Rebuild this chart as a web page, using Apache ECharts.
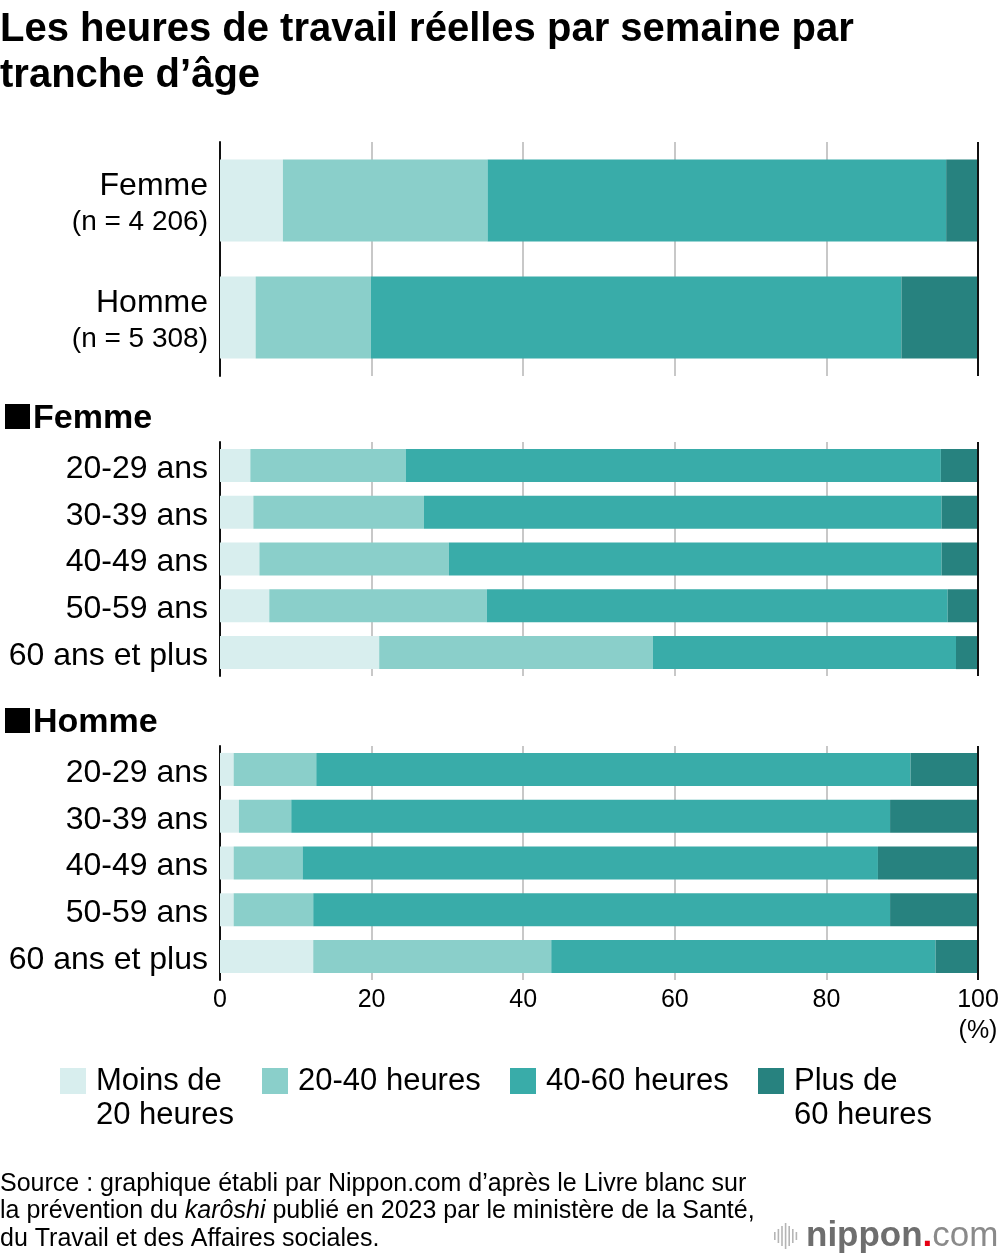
<!DOCTYPE html>
<html>
<head>
<meta charset="utf-8">
<script src="https://cdn.jsdelivr.net/npm/echarts@6/dist/echarts.min.js"></script>
<style>html,body{margin:0;padding:0;background:#fff}#c{width:1000px;height:1258px}</style>
</head>
<body>
<div id="c"></div>
<script>
// ---- data ----
const totalCats = ['Femme\n(n = 4 206)', 'Homme\n(n = 5 308)'];
const ageCats = ['20-29 ans', '30-39 ans', '40-49 ans', '50-59 ans', '60 ans et plus'];
const seriesNames = ['Moins de 20 heures', '20-40 heures', '40-60 heures', 'Plus de 60 heures'];
const legendLabels = ['Moins de\n20 heures', '20-40 heures', '40-60 heures', 'Plus de\n60 heures'];
const xTicks = [0, 20, 40, 60, 80, 100];

const totalLt20 = [8.3, 4.7];
const total2040 = [27.0, 15.2];
const total4060 = [60.5, 70.0];
const totalGt60 = [4.2, 10.1];

const femmeLt20 = [4.0, 4.4, 5.2, 6.5, 21.0];
const femme2040 = [20.5, 22.5, 25.0, 28.7, 36.1];
const femme4060 = [70.6, 68.3, 65.0, 60.8, 40.0];
const femmeGt60 = [4.9, 4.8, 4.8, 4.0, 2.9];

const hommeLt20 = [1.8, 2.5, 1.8, 1.8, 12.3];
const homme2040 = [10.9, 6.9, 9.1, 10.5, 31.4];
const homme4060 = [78.4, 79.0, 75.9, 76.1, 50.7];
const hommeGt60 = [8.9, 11.6, 13.2, 11.6, 5.6];

// ---- styles ----
const colors = ['#d8eeee', '#8acfca', '#39aca9', '#27827f'];
const FONT = "'Liberation Sans', Arial, Helvetica, sans-serif";

const gridDefs = [
  { top: 142, height: 234, cats: totalCats, barWidth: 82, data: [totalLt20, total2040, total4060, totalGt60] },
  { top: 442, height: 234, cats: ageCats, barWidth: 33, data: [femmeLt20, femme2040, femme4060, femmeGt60] },
  { top: 746, height: 234, cats: ageCats, barWidth: 33, data: [hommeLt20, homme2040, homme4060, hommeGt60] }
];

const grids = [], xAxes = [], yAxes = [], series = [];
gridDefs.forEach((g, gi) => {
  grids.push({ left: 220, width: 758, top: g.top, height: g.height, containLabel: false, outerBoundsMode: 'none' });
  const last = gi === gridDefs.length - 1;
  xAxes.push({
    type: 'value', gridIndex: gi, min: xTicks[0], max: xTicks[xTicks.length - 1], interval: 20,
    axisLine: { show: false }, axisTick: { show: false },
    splitLine: { show: true, lineStyle: { color: '#c8c8c8', width: 2 } },
    axisLabel: {
      show: last, margin: 5, color: '#000', fontFamily: FONT, fontSize: 25, lineHeight: 31,
      formatter: v => v === 100 ? '100\n(%)' : String(v)
    }
  });
  yAxes.push({
    type: 'category', gridIndex: gi, data: g.cats, inverse: true,
    axisLine: { show: true, lineStyle: { color: '#111', width: 2 } },
    axisTick: { show: false },
    axisLabel: gi === 0 ? {
      margin: 12, color: '#000', padding: [8, 0, 0, 0], interval: 0,
      formatter: v => { const p = v.split('\n'); return '{a|' + p[0] + '}\n{b|' + p[1] + '}'; },
      rich: {
        a: { fontFamily: FONT, fontSize: 32, lineHeight: 36, color: '#000', align: 'right' },
        b: { fontFamily: FONT, fontSize: 28, lineHeight: 36, color: '#000', align: 'right' }
      }
    } : {
      margin: 12, color: '#000', interval: 0, padding: [7, 0, 0, 0],
      formatter: v => '{a|' + v + '}',
      rich: { a: { fontFamily: FONT, fontSize: 32, lineHeight: 36, color: '#000', align: 'right' } }
    }
  });
  g.data.forEach((arr, si) => {
    const s = {
      name: seriesNames[si], type: 'bar', stack: 'g' + gi, xAxisIndex: gi, yAxisIndex: gi,
      barWidth: g.barWidth, data: arr, itemStyle: { color: colors[si] }, silent: true,
      emphasis: { disabled: true }
    };
    if (si === 3) {
      s.markLine = {
        silent: true, symbol: ['none', 'none'], label: { show: false },
        lineStyle: { color: '#111', width: 2, type: 'solid' },
        data: [{ xAxis: 100 }], z: 10
      };
    }
    series.push(s);
  });
});

const legendX = [60, 262, 510, 758];
const legends = seriesNames.map((n, i) => {
  const two = legendLabels[i].indexOf('\n') >= 0;
  return {
    data: [{ name: n, icon: 'rect' }], left: legendX[i], top: two ? 1030 : 1064,
    padding: 0, itemWidth: 26, itemHeight: 26, selectedMode: false,
    formatter: () => two ? '\u00a0\n' + legendLabels[i] : legendLabels[i],
    textStyle: { fontFamily: FONT, fontSize: 31, lineHeight: 34, color: '#000', padding: [0, 0, 0, 5] }
  };
});

const logoBars = [];
const barH = [8, 14, 20, 26, 20, 14, 8];
barH.forEach((h, i) => {
  logoBars.push({ type: 'rect', shape: { x: 774 + i * 3.6, y: 1236 - h / 2, width: 1.6, height: h }, style: { fill: '#b5b5b5' } });
});

const option = {
  backgroundColor: '#fff',
  animation: false,
  title: [{
    text: 'Les heures de travail réelles par semaine par\ntranche d’âge',
    left: 0, top: 7, padding: 0,
    textStyle: { fontFamily: FONT, fontSize: 40, fontWeight: 'bold', lineHeight: 46, color: '#000' }
  }],
  grid: grids, xAxis: xAxes, yAxis: yAxes, series: series, legend: legends,
  graphic: [
    { type: 'rect', shape: { x: 5, y: 404, width: 25, height: 25 }, style: { fill: '#000' } },
    { type: 'text', x: 33, y: 419, style: { text: 'Femme', fontFamily: FONT, fontSize: 34, fontWeight: 'bold', fill: '#000', verticalAlign: 'middle' } },
    { type: 'rect', shape: { x: 5, y: 708, width: 25, height: 25 }, style: { fill: '#000' } },
    { type: 'text', x: 33, y: 723, style: { text: 'Homme', fontFamily: FONT, fontSize: 34, fontWeight: 'bold', fill: '#000', verticalAlign: 'middle' } },
    { type: 'text', x: 0, y: 1170, style: {
        text: 'Source : graphique établi par Nippon.com d’après le Livre blanc sur\nla prévention du {i|karôshi} publié en 2023 par le ministère de la Santé,\ndu Travail et des Affaires sociales.',
        fontFamily: FONT, fontSize: 25, lineHeight: 27.5, fill: '#000',
        rich: { i: { fontStyle: 'italic', fontFamily: FONT, fontSize: 25, fill: '#000' } }
    } },
    { type: 'text', x: 806, y: 1236, style: {
        text: '{n|nippon}{d|.}{c|com}', verticalAlign: 'middle',
        rich: {
          n: { fontFamily: FONT, fontSize: 35, fontWeight: 'bold', fill: '#6e6e6e' },
          d: { fontFamily: FONT, fontSize: 35, fontWeight: 'bold', fill: '#e60012' },
          c: { fontFamily: FONT, fontSize: 35, fill: '#8a8a8a' }
        }
    } }
  ].concat(logoBars)
};

const chart = echarts.init(document.getElementById('c'), null, { renderer: 'canvas' });
chart.setOption(option);
</script>
</body>
</html>
